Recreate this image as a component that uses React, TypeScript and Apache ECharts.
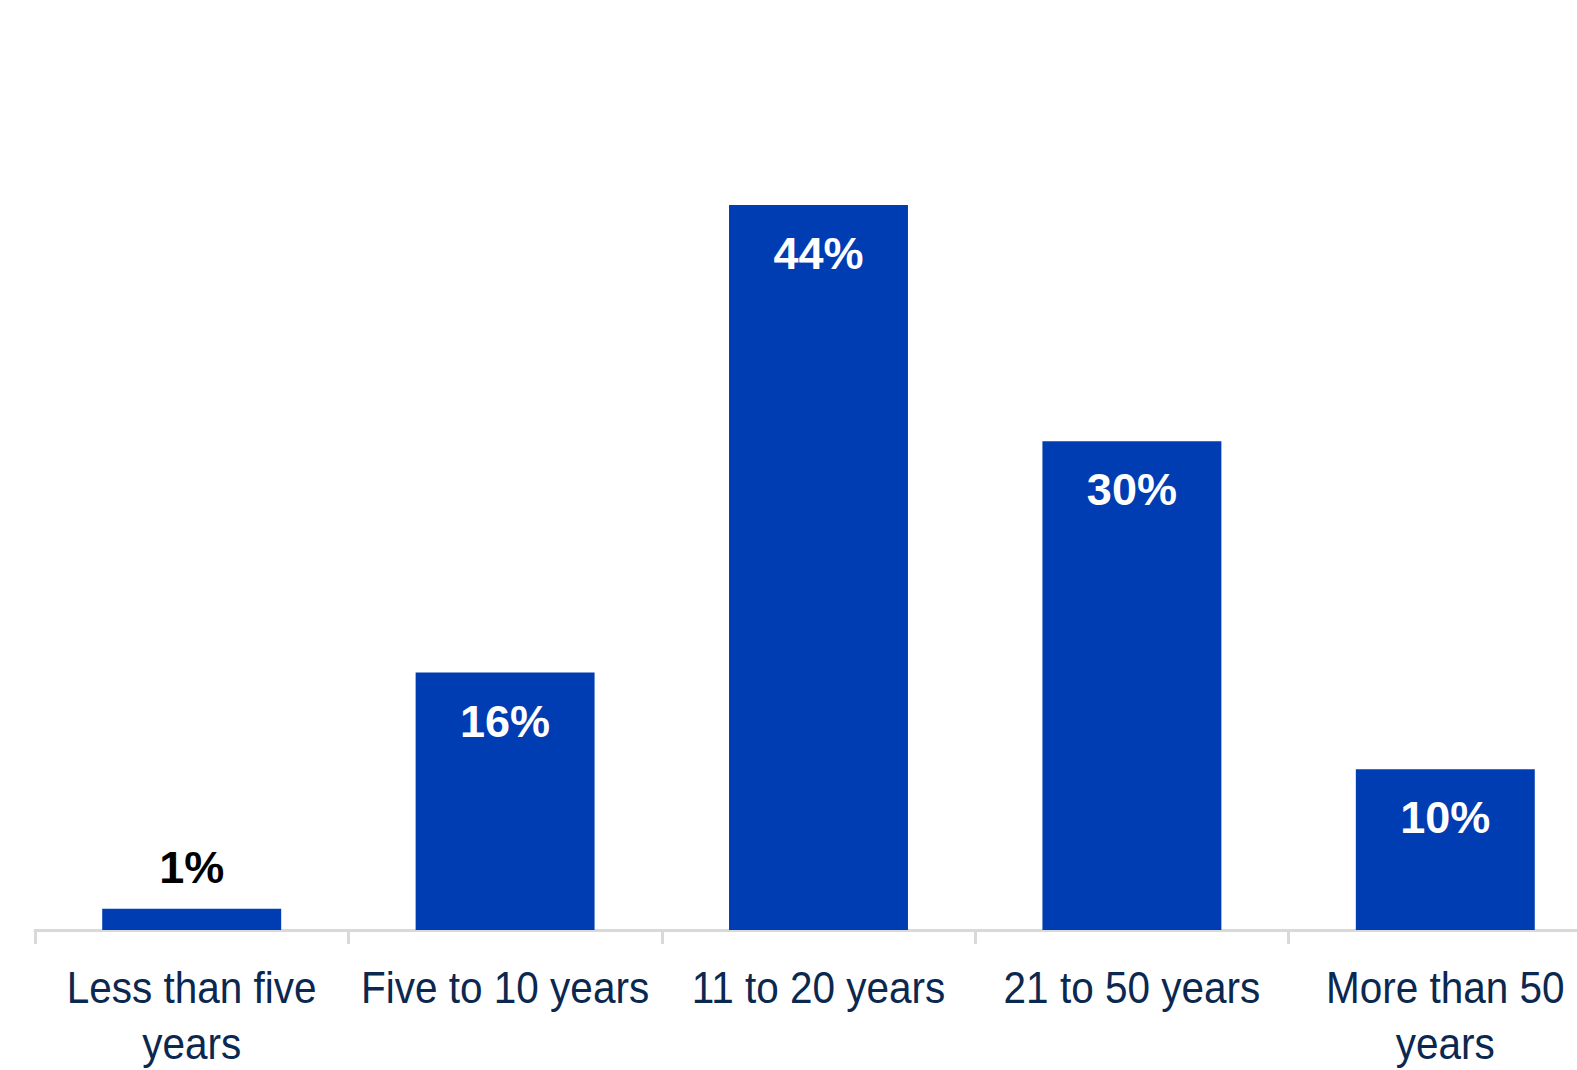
import React, { useEffect, useRef } from "react";
import * as echarts from "echarts";

const categories = [
  "Less than five\nyears",
  "Five to 10 years",
  "11 to 20 years",
  "21 to 50 years",
  "More than 50\nyears",
];
const values = [1.3, 15.7, 44.2, 29.8, 9.8];

const BAR_COLOR = "#003db3";
const AXIS_TEXT = "#0b2850";

export default function App() {
  const ref = useRef<HTMLDivElement>(null);
  useEffect(() => {
    if (!ref.current) return;
    const chart = echarts.init(ref.current, undefined, { renderer: "svg" });
    chart.setOption({
      animation: false,
      backgroundColor: "#ffffff",
      grid: { left: 35, right: 0, top: 110, bottom: 140, containLabel: false },
      xAxis: {
        type: "category",
        data: categories,
        axisLine: { show: true, lineStyle: { color: "#d9d9d9", width: 3 } },
        axisTick: { show: true, alignWithLabel: false, length: 14, lineStyle: { color: "#d9d9d9", width: 3 } },
        axisLabel: { show: false },
      },
      yAxis: {
        type: "value",
        min: 0,
        max: 50,
        show: false,
        splitLine: { show: false },
      },
      series: [
        {
          type: "bar",
          data: values.map((v, i) =>
            i === 0
              ? {
                  value: v,
                  label: { position: "top", color: "#000000", distance: 19 },
                }
              : v
          ),
          barWidth: "57.1%",
          itemStyle: { color: BAR_COLOR },
          label: {
            show: true,
            position: "insideTop",
            distance: 26,
            color: "#ffffff",
            fontWeight: "bold",
            fontSize: 45,
            fontFamily: "'Liberation Sans', Arial, sans-serif",
            formatter: (p: any) => Math.round(p.value) + "%",
          },
        },
      ],
    });
    const y0 = chart.convertToPixel({ yAxisIndex: 0 }, 0) as number;
    const labels = categories.map((c, i) => {
      const x = chart.convertToPixel({ xAxisIndex: 0 }, i) as number;
      return {
        type: "text",
        x,
        y: y0 + 29,
        scaleX: 0.9,
        silent: true,
        style: {
          text: c,
          fill: AXIS_TEXT,
          font: "45px 'Liberation Sans', Arial, sans-serif",
          lineHeight: 56,
          textAlign: "center",
          textVerticalAlign: "top",
        },
      };
    });
    chart.setOption({ graphic: labels });
    return () => chart.dispose();
  }, []);
  return (
    <div
      style={{
        position: "absolute",
        left: 0,
        top: 0,
        width: 1577,
        height: 1070,
        overflow: "hidden",
      }}
    >
      <div ref={ref} style={{ width: 1602, height: 1070 }} />
    </div>
  );
}
